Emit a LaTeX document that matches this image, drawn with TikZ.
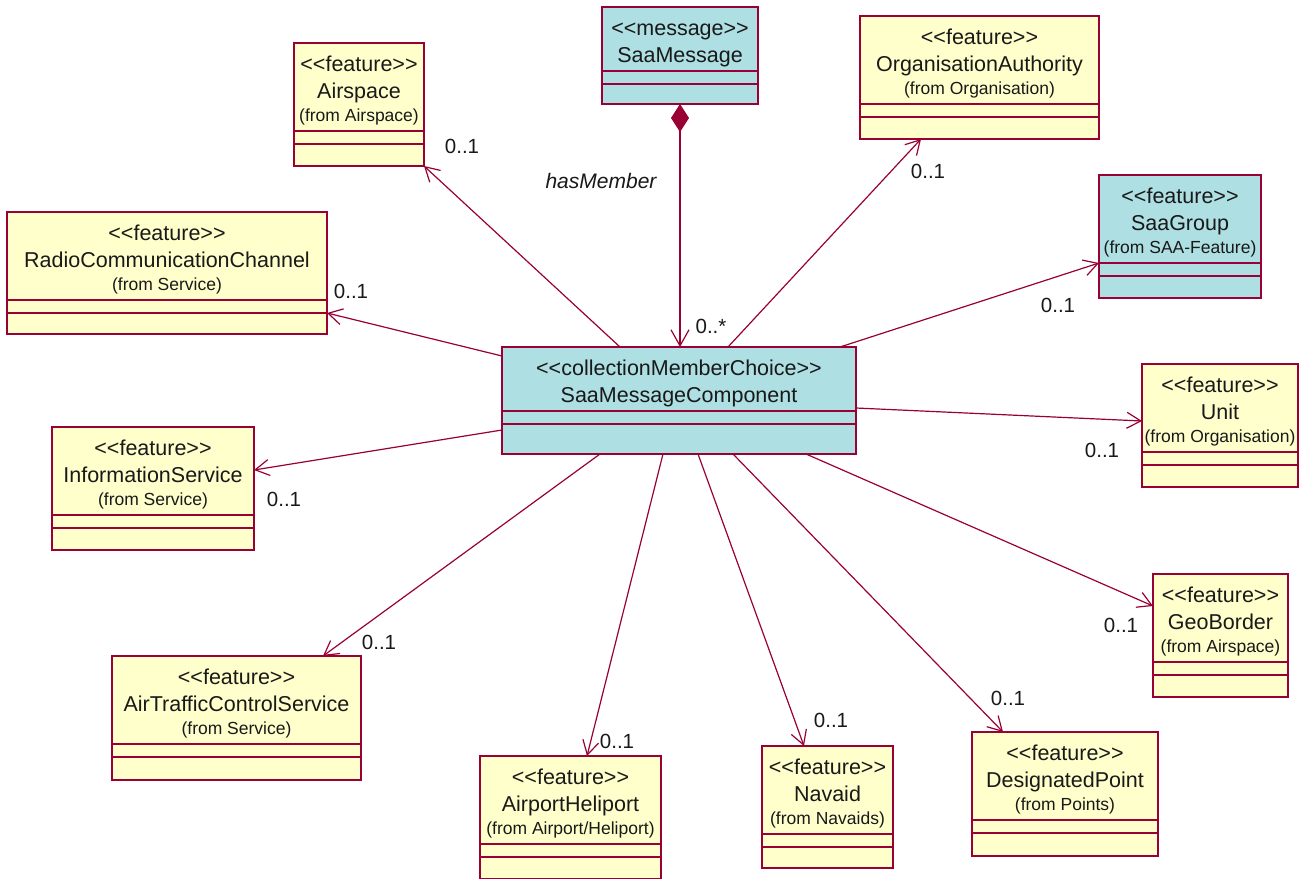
\documentclass[tikz,border=0pt]{standalone}
\usepackage{fontspec}
\setmainfont{Liberation Sans}
\usetikzlibrary{arrows.meta,calc}
\definecolor{umlline}{RGB}{153,0,51}
\definecolor{umlyellow}{RGB}{255,255,204}
\definecolor{umlcyan}{RGB}{174,223,227}
\definecolor{umltext}{RGB}{25,25,25}
\newcommand{\gl}{<\kern0pt<}
\newcommand{\gr}{>\kern0pt>}
\tikzset{
  clsbox/.style={draw=umlline, line width=1.4pt, inner sep=0pt, outer sep=0pt},
  divline/.style={draw=umlline, line width=1.4pt},
  sttext/.style={anchor=base, inner sep=0pt, text=umltext, font=\fontsize{21.5}{25}\selectfont},
  nmtext/.style={anchor=base, inner sep=0pt, text=umltext, font=\fontsize{21.5}{25}\selectfont},
  fromtext/.style={anchor=base, inner sep=0pt, text=umltext, font=\fontsize{17.5}{21}\selectfont},
  multlabel/.style={inner sep=0pt, text=umltext, font=\fontsize{20.5}{24}\selectfont},
  rolelabel/.style={inner sep=0pt, text=umltext, font=\fontsize{21}{24}\selectfont\itshape},
  assoc/.style={draw=umlline, line width=1.2pt, -{Straight Barb[length=14pt,width=16pt]}},
  compos/.style={draw=umlline, line width=1.2pt, {Diamond[length=28pt,width=18pt,fill=umlline]}-{Straight Barb[length=16pt,width=18pt]}}
}
% #1 name, #2 x, #3 y, #4 width, #5 height, #6 fill, #7 stereotype, #8 class name, #9 package
\newcommand{\umlclass}[9]{%
  \node[clsbox, fill=#6, minimum width=#4pt, minimum height=#5pt, anchor=north west] (#1) at (#2,#3) {};
  \node[sttext] (#1-st) at ($(#1.north)+(0,28)$) {\gl#7\gr};
  \node[nmtext] (#1-nm) at ($(#1.north)+(0,55.5)$) {#8};
  \if\relax\detokenize{#9}\relax
    \draw[divline] ($(#1.north west)+(0,64)$) -- ($(#1.north east)+(0,64)$);
    \draw[divline] ($(#1.north west)+(0,77)$) -- ($(#1.north east)+(0,77)$);
  \else
    \node[fromtext] (#1-fr) at ($(#1.north)+(0,78.5)$) {(from #9)};
    \draw[divline] ($(#1.north west)+(0,88)$) -- ($(#1.north east)+(0,88)$);
    \draw[divline] ($(#1.north west)+(0,101)$) -- ($(#1.north east)+(0,101)$);
  \fi}
\begin{document}
\begin{tikzpicture}[x=1pt, y=-1pt]
\clip (0,0) rectangle (1300,878);
\fill[white] (0,0) rectangle (1300,878);

\umlclass{msg}{602}{7}{156}{97}{umlcyan}{message}{SaaMessage}{}
\umlclass{air}{294}{43}{130}{123}{umlyellow}{feature}{Airspace}{Airspace}
\umlclass{org}{860}{16}{239}{123}{umlyellow}{feature}{OrganisationAuthority}{Organisation}
\umlclass{grp}{1099}{175}{162}{123}{umlcyan}{feature}{SaaGroup}{SAA-Feature}
\umlclass{radio}{7}{212}{320}{122}{umlyellow}{feature}{RadioCommunicationChannel}{Service}
\umlclass{smc}{502}{347}{354}{107}{umlcyan}{collectionMemberChoice}{SaaMessageComponent}{}
\umlclass{unit}{1142}{364}{156}{123}{umlyellow}{feature}{Unit}{Organisation}
\umlclass{info}{52}{427}{202}{123}{umlyellow}{feature}{InformationService}{Service}
\umlclass{geo}{1153}{574}{135}{123}{umlyellow}{feature}{GeoBorder}{Airspace}
\umlclass{atc}{112}{656}{249}{124}{umlyellow}{feature}{AirTrafficControlService}{Service}
\umlclass{ah}{480}{756}{181}{123}{umlyellow}{feature}{AirportHeliport}{Airport/Heliport}
\umlclass{nav}{762}{746}{131}{122}{umlyellow}{feature}{Navaid}{Navaids}
\umlclass{dp}{972}{732}{186}{124}{umlyellow}{feature}{DesignatedPoint}{Points}

% composition
\draw[compos] (msg.south) -- (msg.south |- smc.north);
\node[rolelabel] (role) at (601,181) {hasMember};
\node[multlabel] (m-msg) at (711,326) {0..*};

% associations
\draw[assoc] ($(smc.north west)+(118,0)$) -- (air.south east);
\draw[assoc] ($(smc.north west)+(0,9)$) -- ($(radio.south east)+(0,-21)$);
\draw[assoc] ($(smc.north west)+(0,83)$) -- ($(info.north east)+(0,43)$);
\draw[assoc] ($(smc.south west)+(98,0)$) -- ($(atc.north west)+(211,0)$);
\draw[assoc] ($(smc.south west)+(161,0)$) -- ($(ah.north west)+(107,0)$);
\draw[assoc] ($(smc.south west)+(196,0)$) -- ($(nav.north west)+(42,0)$);
\draw[assoc] ($(smc.south west)+(231,0)$) -- ($(dp.north west)+(31,0)$);
\draw[assoc] ($(smc.south west)+(304,0)$) -- ($(geo.north west)+(0,32)$);
\draw[assoc] ($(smc.north east)+(0,61)$) -- ($(unit.north west)+(0,57)$);
\draw[assoc] ($(smc.north west)+(338,0)$) -- ($(grp.north west)+(0,88)$);
\draw[assoc] ($(smc.north west)+(226,0)$) -- ($(org.south west)+(61,0)$);

% multiplicities
\node[multlabel] (m-air) at (462,146) {0..1};
\node[multlabel] (m-org) at (928,171) {0..1};
\node[multlabel] (m-grp) at (1058,305) {0..1};
\node[multlabel] (m-radio) at (351,291) {0..1};
\node[multlabel] (m-unit) at (1102,450) {0..1};
\node[multlabel] (m-info) at (284,499) {0..1};
\node[multlabel] (m-geo) at (1121,625) {0..1};
\node[multlabel] (m-atc) at (379,642) {0..1};
\node[multlabel] (m-ah) at (617,741) {0..1};
\node[multlabel] (m-nav) at (831,720) {0..1};
\node[multlabel] (m-dp) at (1008,698) {0..1};
\end{tikzpicture}
\end{document}
